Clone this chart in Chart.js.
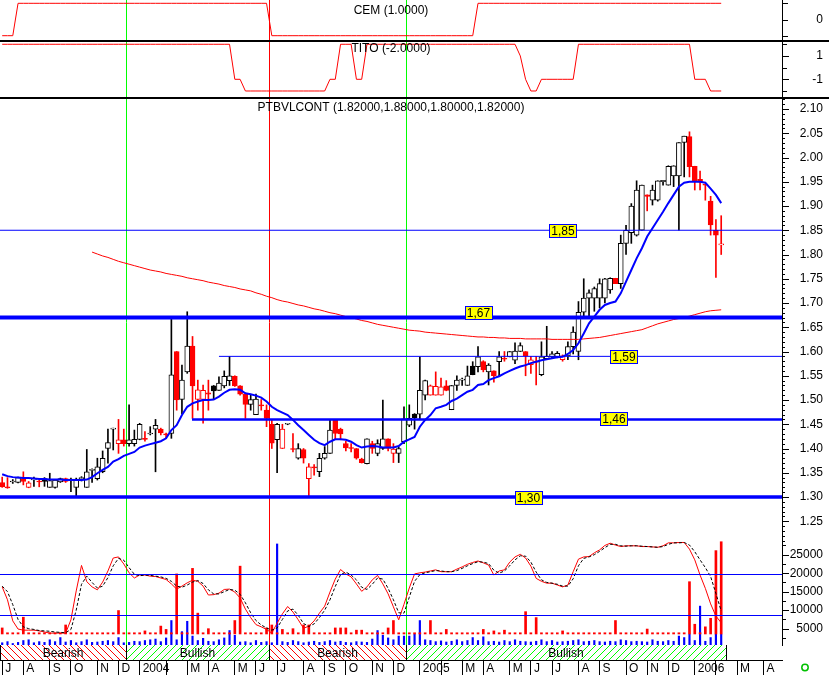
<!DOCTYPE html>
<html>
<head>
<meta charset="utf-8">
<script src="https://cdn.jsdelivr.net/npm/chart.js@4.4.1/dist/chart.umd.min.js"></script>
<style>
  html, body { margin: 0; padding: 0; background: #fff; }
  canvas { display: block; }
</style>
</head>
<body>
<canvas id="chart" width="829" height="675"></canvas>
<script>
// weekly bars, index 0 = first week of July 2003
var opens = [
  1.330,1.320,1.331,1.330,1.338,1.320,1.335,1.332,1.338,1.320,
  1.320,1.331,1.338,1.335,1.320,1.338,1.320,1.355,1.338,1.352,
  1.400,1.440,1.410,1.418,1.410,1.410,1.419,1.420,1.430,1.440,
  1.440,1.430,1.431,1.600,1.501,1.558,1.611,1.501,1.501,1.515,
  1.529,1.520,1.529,1.540,1.549,1.529,1.512,1.491,1.470,1.490,
  1.479,1.450,1.418,1.400,1.450,1.400,1.380,1.398,1.338,1.362,
  1.352,1.380,1.390,1.459,1.440,1.410,1.401,1.400,1.378,1.369,
  1.410,1.390,1.400,1.420,1.390,1.390,1.414,1.448,1.471,1.471,
  1.510,1.510,1.510,1.510,1.529,1.480,1.530,1.541,1.530,1.570,
  1.569,1.579,1.558,1.560,1.579,1.585,1.589,1.582,1.600,1.600,
  1.573,1.580,1.552,1.585,1.589,1.589,1.583,1.591,1.610,1.600,
  1.681,1.710,1.710,1.710,1.710,1.727,1.751,1.740,1.823,1.845,
  1.840,1.850,1.923,1.912,1.912,1.950,1.943,1.962,1.962,2.031,
  2.043,1.982,1.955,1.945,1.910,1.850,1.820
];
var highs = [
  1.341,1.340,1.336,1.341,1.352,1.332,1.341,1.335,1.340,1.349,
  1.336,1.339,1.339,1.339,1.339,1.342,1.398,1.358,1.380,1.395,
  1.440,1.442,1.460,1.440,1.490,1.438,1.452,1.435,1.445,1.460,
  1.442,1.432,1.668,1.600,1.572,1.682,1.631,1.541,1.531,1.541,
  1.530,1.548,1.560,1.590,1.550,1.530,1.512,1.510,1.512,1.501,
  1.490,1.460,1.452,1.450,1.451,1.431,1.410,1.400,1.369,1.367,
  1.390,1.404,1.459,1.459,1.442,1.415,1.410,1.400,1.380,1.420,
  1.415,1.418,1.500,1.420,1.410,1.403,1.486,1.490,1.472,1.589,
  1.541,1.531,1.558,1.545,1.540,1.530,1.550,1.545,1.570,1.579,
  1.610,1.581,1.575,1.560,1.600,1.600,1.600,1.618,1.618,1.600,
  1.590,1.590,1.620,1.652,1.600,1.600,1.593,1.620,1.651,1.703,
  1.750,1.727,1.733,1.750,1.751,1.752,1.751,1.840,1.860,1.905,
  1.952,1.943,1.923,1.943,1.952,1.953,1.983,1.983,2.031,2.044,
  2.053,1.982,1.972,1.945,1.920,1.872,1.880
];
var lows = [
  1.320,1.318,1.328,1.329,1.325,1.319,1.322,1.321,1.322,1.320,
  1.318,1.330,1.330,1.311,1.302,1.333,1.320,1.330,1.335,1.350,
  1.370,1.397,1.390,1.405,1.405,1.405,1.418,1.415,1.428,1.352,
  1.428,1.421,1.421,1.479,1.472,1.555,1.462,1.479,1.452,1.479,
  1.501,1.520,1.525,1.530,1.528,1.510,1.462,1.479,1.470,1.479,
  1.445,1.400,1.350,1.400,1.449,1.393,1.378,1.370,1.300,1.345,
  1.342,1.378,1.390,1.420,1.418,1.395,1.393,1.378,1.370,1.368,
  1.390,1.385,1.398,1.395,1.371,1.371,1.410,1.445,1.440,1.460,
  1.500,1.510,1.510,1.510,1.519,1.480,1.520,1.530,1.530,1.552,
  1.558,1.558,1.531,1.537,1.549,1.580,1.589,1.575,1.600,1.550,
  1.555,1.531,1.550,1.585,1.587,1.587,1.580,1.583,1.595,1.583,
  1.672,1.672,1.683,1.690,1.700,1.720,1.740,1.730,1.800,1.823,
  1.838,1.850,1.890,1.902,1.910,1.943,1.943,1.940,1.850,1.960,
  1.960,1.933,1.933,1.912,1.840,1.753,1.800
];
var closes = [
  1.321,1.319,1.333,1.340,1.332,1.329,1.338,1.331,1.332,1.334,
  1.335,1.338,1.332,1.336,1.337,1.340,1.352,1.357,1.362,1.380,
  1.412,1.442,1.418,1.410,1.418,1.419,1.450,1.419,1.432,1.448,
  1.432,1.428,1.552,1.500,1.541,1.611,1.529,1.521,1.520,1.512,
  1.519,1.535,1.549,1.550,1.529,1.512,1.491,1.501,1.502,1.488,
  1.462,1.411,1.450,1.440,1.450,1.398,1.400,1.380,1.362,1.360,
  1.380,1.390,1.438,1.431,1.430,1.401,1.400,1.380,1.371,1.420,
  1.400,1.410,1.420,1.400,1.399,1.400,1.461,1.462,1.463,1.520,
  1.540,1.529,1.528,1.527,1.520,1.530,1.541,1.543,1.550,1.552,
  1.589,1.562,1.572,1.550,1.589,1.584,1.600,1.601,1.612,1.591,
  1.583,1.578,1.589,1.590,1.595,1.596,1.591,1.610,1.640,1.681,
  1.710,1.721,1.730,1.740,1.750,1.751,1.740,1.823,1.850,1.900,
  1.933,1.943,1.920,1.933,1.952,1.953,1.982,1.983,2.031,2.044,
  1.981,1.950,1.949,1.943,1.861,1.840,1.820
];
// short (blue) and long (red) averages
var shortAvg = [
  1.347,1.343,1.341,1.340,1.339,1.339,1.338,1.337,1.337,1.336,
  1.336,1.336,1.335,1.335,1.335,1.335,1.336,1.341,1.349,1.356,
  1.362,1.373,1.378,1.385,1.389,1.393,1.402,1.406,1.409,1.412,
  1.415,1.421,1.438,1.448,1.469,1.486,1.493,1.497,1.500,1.500,
  1.501,1.507,1.515,1.521,1.522,1.521,1.514,1.512,1.509,1.505,
  1.497,1.486,1.479,1.474,1.469,1.459,1.448,1.438,1.428,1.418,
  1.411,1.407,1.414,1.419,1.419,1.418,1.414,1.407,1.402,1.404,
  1.405,1.404,1.402,1.402,1.402,1.405,1.414,1.419,1.424,1.445,
  1.459,1.469,1.483,1.486,1.490,1.498,1.503,1.510,1.517,1.521,
  1.531,1.533,1.541,1.545,1.549,1.555,1.560,1.565,1.569,1.572,
  1.576,1.579,1.582,1.584,1.586,1.588,1.589,1.595,1.603,1.617,
  1.637,1.658,1.672,1.686,1.696,1.700,1.703,1.720,1.744,1.768,
  1.792,1.813,1.837,1.854,1.871,1.888,1.906,1.923,1.940,1.948,
  1.950,1.950,1.950,1.948,1.936,1.923,1.906
];
var longAvg = [
  null,null,null,null,null,null,null,null,null,null,
  null,null,null,null,null,null,null,1.805,1.801,1.797,
  1.794,1.790,1.786,1.783,1.780,1.777,1.774,1.771,1.768,1.766,
  1.764,1.761,1.759,1.757,1.755,1.752,1.750,1.748,1.746,1.743,
  1.741,1.739,1.736,1.734,1.732,1.729,1.727,1.725,1.721,1.718,
  1.714,1.711,1.707,1.704,1.702,1.699,1.696,1.694,1.691,1.688,
  1.686,1.683,1.680,1.678,1.675,1.672,1.670,1.667,1.664,1.662,
  1.659,1.656,1.654,1.652,1.650,1.648,1.646,1.644,1.643,1.642,
  1.640,1.639,1.638,1.637,1.636,1.635,1.634,1.633,1.632,1.631,
  1.630,1.630,1.629,1.629,1.628,1.628,1.627,1.627,1.627,1.626,
  1.626,1.626,1.626,1.626,1.625,1.625,1.625,1.625,1.625,1.625,
  1.626,1.627,1.628,1.629,1.631,1.633,1.635,1.637,1.639,1.641,
  1.643,1.645,1.649,1.653,1.657,1.660,1.663,1.666,1.668,1.670,
  1.673,1.676,1.679,1.682,1.684,1.685,1.686
];
var cem = [
  -1,-1,-1,1,1,1,1,1,1,1, 1,1,1,1,1,1,1,1,1,1, 1,1,1,1,1,1,1,1,1,1,
  1,1,1,1,1,1,1,1,1,1, 1,1,1,1,1,1,1,1,1,1, 1,-1,-1,-1,-1,-1,-1,-1,-1,-1,
  -1,-1,-1,-1,-1,-1,-1,-1,-1,-1, -1,-1,-1,-1,-1,-1,-1,-1,-1,-1, -1,-1,-1,-1,-1,-1,-1,-1,-1,-1,
  1,1,1,1,1,1,1,1,1,1, 1,1,1,1,1,1,1,1,1,1, 1,1,1,1,1,1,1,1,1,1,
  1,1,1,1,1,1,1,1,1,1, 1,1,1,1,1,1,1
];
var tito = [
  2,2,2,2,2,2,2,2,2,2, 2,2,2,2,2,2,2,2,2,2, 2,2,2,2,2,2,2,2,2,2,
  2,2,2,2,2,2,2,2,2,2, 2,2,2,2,-1,-1,-2,-2,-2,-2, -2,-2,-2,-2,-2,-2,-2,-2,-2,-2,
  -2,-2,-1,-1,2,2,2,-1,-1,2, 2,2,2,2,2,2,2,2,2,2, 2,2,2,2,2,2,2,2,2,2,
  2,2,2,2,2,2,2,2,1,-1, -2,-2,-1,-1,-1,-1,-1,-1,-1,2, 2,2,2,2,2,2,2,2,2,2,
  2,2,2,2,2,2,2,2,2,2, 2,-1,-1,-1,-2,-2,-2
];
// lower panel, in thousands
var volRed = [
  5.2,3.9,3.9,3.9,8.1,3.9,3.9,3.9,3.9,3.9,
  3.9,3.9,6.0,3.9,3.9,3.9,3.9,3.9,3.9,3.9,
  3.9,3.9,9.9,3.9,3.9,3.9,3.9,4.4,3.9,3.9,
  5.7,4.8,3.9,19.8,3.9,3.9,21.3,9.2,3.9,5.0,
  3.9,3.9,3.9,3.9,7.2,21.9,3.9,3.9,3.9,3.9,
  5.2,6.0,3.9,4.8,3.9,5.0,3.9,6.0,6.0,3.9,
  3.9,3.9,3.9,5.2,5.2,5.2,3.9,4.6,4.6,3.9,
  3.9,3.9,3.9,5.2,7.2,3.9,3.9,3.9,3.9,3.9,
  3.9,7.2,3.9,3.9,4.8,3.9,3.9,3.9,3.9,3.9,
  3.9,4.8,3.9,4.4,3.9,4.6,3.9,3.9,3.9,9.6,
  3.9,8.0,3.9,3.9,3.9,3.9,4.4,3.9,3.9,3.9,
  3.9,3.9,3.9,3.9,3.9,3.9,7.2,3.9,3.9,3.9,
  3.9,3.9,4.9,3.9,3.9,3.9,3.9,3.9,3.9,3.9,
  17.7,6.2,3.9,5.5,7.8,26.1,28.5
];
var volBlue = [
  1.2,1.5,1.0,1.3,1.8,2.0,1.2,1.5,1.3,2.0,
  1.5,2.6,1.4,1.8,1.2,1.5,2.0,1.3,1.4,1.6,
  1.8,1.5,2.6,1.2,1.3,1.6,1.5,1.8,2.0,2.2,
  1.5,2.5,7.2,2.0,4.2,7.0,3.0,1.8,2.4,1.6,
  1.5,2.0,2.5,4.5,3.2,1.4,1.5,1.2,1.8,1.3,
  1.5,1.2,27.9,1.5,1.3,1.8,1.5,1.2,1.4,1.6,
  1.3,1.5,1.8,1.4,1.6,1.3,1.2,1.5,1.4,1.3,
  2.2,4.5,3.2,2.5,2.0,3.0,3.0,3.0,3.5,7.2,
  2.0,1.8,1.5,1.7,1.4,1.6,2.0,1.5,1.8,2.6,
  1.8,2.8,1.5,1.6,1.4,1.8,1.5,2.0,1.6,1.5,
  1.4,1.6,2.0,1.5,1.8,1.4,1.5,1.6,1.8,2.0,
  1.5,1.6,1.8,1.5,1.4,1.6,1.5,2.0,1.8,1.5,
  1.6,1.5,1.4,2.0,1.6,1.5,1.8,1.6,3.0,2.6,
  3.5,1.8,11.1,1.6,2.6,3.5,3.5
];
var osc = [
  16.3,12.8,7.1,4.9,4.6,4.6,4.6,4.4,4.1,3.8,
  3.8,3.8,3.8,7.4,15.2,22.1,17.7,16.3,15.5,17.6,
  20.6,24.1,24.4,22.5,20.1,18.7,19.5,19.5,19.2,19.1,
  18.7,18.3,17.1,15.7,16.5,17.4,18.1,17.8,16.5,14.1,
  14.2,14.6,15.6,15.7,14.9,13.3,10.3,8.0,6.1,5.5,
  4.8,3.8,6.5,9.0,11.0,9.5,7.4,5.1,5.7,7.1,
  9.2,11.1,14.9,18.4,21.0,19.8,19.0,17.1,15.1,16.3,
  18.2,19.4,17.1,14.4,10.9,7.4,11.6,16.0,19.8,20.1,
  20.3,20.6,20.9,20.4,20.4,20.4,21.1,21.7,22.4,22.9,
  23.3,22.8,22.2,19.5,20.6,20.9,23.0,24.4,25.1,24.1,
  21.9,18.6,17.8,17.3,17.3,16.8,16.3,16.8,20.4,23.8,
  24.4,24.5,25.5,26.3,27.5,28.1,27.6,27.2,27.4,27.4,
  27.4,27.2,27.2,27.1,27.0,27.4,28.2,28.2,28.3,28.3,
  26.5,23.6,19.5,15.9,11.7,8.4,6.6
];
var oscSignal = [
  16.5,15.0,11.5,7.5,5.5,5.0,4.8,4.5,4.4,4.3,
  4.1,4.0,3.9,4.8,10.0,17.0,19.2,17.5,16.0,16.5,
  18.8,22.0,24.0,23.5,21.5,19.7,19.3,19.5,19.4,19.2,
  19.0,18.6,17.8,16.5,16.2,16.8,17.6,18.0,17.2,15.5,
  14.4,14.4,15.0,15.6,15.4,14.3,12.0,9.3,7.2,6.0,
  5.2,4.6,5.2,7.5,9.8,10.3,8.6,6.4,5.6,6.3,
  8.0,10.0,12.8,16.4,19.6,20.3,19.5,18.2,16.2,15.6,
  17.0,18.7,18.4,15.9,12.8,9.3,9.2,13.5,17.8,19.6,
  20.1,20.4,20.7,20.6,20.4,20.4,20.7,21.3,22.0,22.6,
  23.1,23.0,22.6,20.8,20.0,20.6,22.0,23.6,24.7,24.6,
  23.0,20.3,18.2,17.5,17.3,17.0,16.5,16.5,18.5,22.0,
  24.0,24.4,25.0,25.9,26.9,27.8,27.8,27.4,27.3,27.4,
  27.4,27.3,27.2,27.1,27.0,27.2,27.8,28.2,28.2,28.3,
  27.6,25.8,23.6,21.5,19.1,14.5,9.8
];
var monthTicks = [0,4,9,13,18,22,26,31,35,39,44,48,52,57,61,65,70,74,79,83,87,91,96,100,104,109,113,118,122,126,131,135,139,144];
var monthLabels = ['J','A','S','O','N','D','2004','','M','A','M','J','J','A','S','O','N','D','2005','','M','A','M','J','J','A','S','O','N','D','2006','','M','A'];
var levelValues = [1.85, 1.67, 1.59, 1.46, 1.30];
var levelStart = [null, null, 41, 35.9, null];
var oscGuides = [19700, 8620];
var signalAt = [23.42, 50.46, 76.38];
var phaseNames = ['Bearish', 'Bullish', 'Bearish', 'Bullish'];
var lastBar = 136.9;

var FONT = "'Liberation Sans', Arial, sans-serif";
var RED = '#ff0000', GREEN = '#00ff00', BLUE = '#0000ff', BLACK = '#000000';
Chart.defaults.font.family = FONT;
Chart.defaults.font.size = 12;
Chart.defaults.color = BLACK;

var last = closes.length - 1;
var titles = [
  'CEM (' + cem[last].toFixed(4) + ')',
  'TITO (' + tito[last].toFixed(4) + ')',
  'PTBVLCONT (' + [opens[last], highs[last], lows[last], closes[last]].map(function (v) { return v.toFixed(5); }).join(',') + ')'
];

// metastock colouring: red when the close falls, filled when close < open
var candleColor = closes.map(function (c, i) {
  var ref = i === 0 ? opens[0] : closes[i - 1];
  return c < ref ? RED : BLACK;
});
var candleFilled = closes.map(function (c, i) { return c < opens[i]; });

function pts(arr, scale) {
  var out = [];
  arr.forEach(function (v, i) { if (v !== null) out.push({ x: i, y: v * (scale || 1) }); });
  return out;
}

var levelStyle = [
  { w: 1, lx: 562.5, dy: 0 },
  { w: 4, lx: 478, dy: -5 },
  { w: 1, lx: 623.5, dy: 0 },
  { w: 2.5, lx: 613.5, dy: -1 },
  { w: 3.5, lx: 528, dy: 0 }
];

var decor = {
  id: 'decor',
  beforeDatasetsDraw: function (chart) {
    var ctx = chart.ctx, x = chart.scales.x, band = chart.scales.yB;
    ctx.save();
    ctx.lineWidth = 1;
    signalAt.forEach(function (v, k) {
      var px = Math.round(x.getPixelForValue(v)) + 0.5;
      ctx.strokeStyle = k % 2 === 0 ? GREEN : RED;
      ctx.beginPath(); ctx.moveTo(px, 0); ctx.lineTo(px, band.top); ctx.stroke();
    });
    ctx.restore();
  },
  afterDatasetsDraw: function (chart) {
    var ctx = chart.ctx, area = chart.chartArea, s = chart.scales;
    var x = s.x, yC = s.yC, yT = s.yT, yP = s.yP, yV = s.yV, yB = s.yB;
    ctx.save();

    // support / resistance levels
    levelValues.forEach(function (v, k) {
      var st = levelStyle[k];
      var py = yP.getPixelForValue(v);
      var x0 = levelStart[k] === null ? area.left : x.getPixelForValue(levelStart[k]);
      ctx.strokeStyle = BLUE; ctx.lineWidth = st.w;
      ctx.beginPath(); ctx.moveTo(x0, py); ctx.lineTo(area.right, py); ctx.stroke();
    });

    // oscillator guides
    ctx.lineWidth = 1; ctx.strokeStyle = BLUE;
    oscGuides.forEach(function (v) {
      var py = Math.round(yV.getPixelForValue(v)) + 0.5;
      ctx.beginPath(); ctx.moveTo(area.left, py); ctx.lineTo(area.right, py); ctx.stroke();
    });

    // bearish / bullish band
    var edges = [area.left].concat(signalAt.map(function (v) { return x.getPixelForValue(v); }));
    edges.push(x.getPixelForValue(lastBar));
    var bt = yB.top, bb = yB.bottom, bh = bb - bt;
    ctx.font = '12px ' + FONT; ctx.textAlign = 'center'; ctx.textBaseline = 'middle';
    phaseNames.forEach(function (name, k) {
      var x0 = edges[k], x1 = edges[k + 1], bear = name === 'Bearish';
      ctx.save();
      ctx.beginPath(); ctx.rect(x0, bt, x1 - x0, bh); ctx.clip();
      ctx.strokeStyle = bear ? RED : GREEN; ctx.lineWidth = 1;
      ctx.beginPath();
      for (var hx = Math.floor((x0 - bh) / 7) * 7; hx < x1 + bh; hx += 7) {
        if (bear) { ctx.moveTo(hx, bt); ctx.lineTo(hx + bh, bb); }
        else { ctx.moveTo(hx, bb); ctx.lineTo(hx + bh, bt); }
      }
      ctx.stroke();
      ctx.restore();
      ctx.fillStyle = BLACK;
      ctx.fillText(name, (x0 + x1) / 2, (bt + bb) / 2 + 1);
    });
    ctx.strokeStyle = BLACK; ctx.lineWidth = 1;
    edges.forEach(function (ex) {
      var px = Math.round(ex) + 0.5;
      ctx.beginPath(); ctx.moveTo(px, bt); ctx.lineTo(px, bb); ctx.stroke();
    });

    // panel separators
    ctx.lineWidth = 2;
    [yC.bottom, yT.bottom].forEach(function (py) {
      ctx.beginPath(); ctx.moveTo(0, py); ctx.lineTo(chart.width, py); ctx.stroke();
    });

    // panel titles
    var cx = (area.left + area.right) / 2;
    ctx.fillStyle = BLACK;
    ctx.fillText(titles[0], cx, yC.top + 11);
    ctx.fillText(titles[1], cx, yT.top + 8);
    ctx.fillText(titles[2], cx, yP.top + 10);

    // level labels
    levelValues.forEach(function (v, k) {
      var st = levelStyle[k];
      var py = yP.getPixelForValue(v) + st.dy;
      var bx = Math.round(st.lx - 13.5) + 0.5, by = Math.round(py - 6.5) + 0.5;
      ctx.fillStyle = '#ffff00'; ctx.fillRect(bx, by, 27, 13);
      ctx.strokeStyle = BLUE; ctx.lineWidth = 1; ctx.strokeRect(bx, by, 27, 13);
      ctx.fillStyle = BLACK;
      ctx.fillText(v.toFixed(2).replace('.', ','), st.lx + 0.5, by + 7);
    });

    // right axis tick marks (major + minor)
    ctx.strokeStyle = BLACK; ctx.lineWidth = 1;
    ctx.beginPath();
    function mark(scale, v, len) {
      var py = Math.round(scale.getPixelForValue(v)) + 0.5;
      ctx.moveTo(scale.left, py); ctx.lineTo(scale.left + len, py);
    }
    for (var k = 121; k <= 212; k++) mark(yP, k / 100, k % 5 === 0 ? 7 : 3);
    for (k = 1; k <= 11; k++) mark(yV, k * 2500, k % 2 === 0 ? 7 : 4);
    [1, 0, -1].forEach(function (v) { mark(yC, v, 6); });
    [2, 1, 0, -1, -2].forEach(function (v) { mark(yT, v, v === 1 || v === -1 ? 7 : 5); });
    ctx.stroke();

    // little status icon
    ctx.strokeStyle = '#00c000'; ctx.lineWidth = 1.5;
    ctx.beginPath(); ctx.arc(805, 667.5, 3.2, 0, Math.PI * 2); ctx.stroke();
    ctx.restore();
  }
};

// right-aligned tick labels ending 41px right of the axis line
function fitY(scale) { scale.width = 47; scale.paddingTop = 0; scale.paddingBottom = 0; }
function yAxis(weight, min, max, values, label) {
  return {
    type: 'linear', position: 'right', stack: 'panels', stackWeight: weight,
    min: min, max: max, offset: false,
    grid: { display: false, drawTicks: false },
    border: { display: true, color: BLACK, width: 1 },
    ticks: { autoSkip: false, mirror: true, padding: 41, color: BLACK, font: { size: 12 }, callback: label },
    afterBuildTicks: function (s) { s.ticks = values.map(function (v) { return { value: v }; }); },
    afterFit: fitY
  };
}

var wickData = highs.map(function (h, i) { return { x: i, y: [lows[i], h] }; });
var bodyData = opens.map(function (o, i) { return { x: i, y: [o, closes[i]] }; });

new Chart(document.getElementById('chart'), {
  type: 'bar',
  data: {
    datasets: [
      { type: 'line', data: pts(shortAvg), yAxisID: 'yP', borderColor: BLUE, borderWidth: 2, pointRadius: 0, order: 0 },
      { type: 'line', data: pts(longAvg), yAxisID: 'yP', borderColor: RED, borderWidth: 1, pointRadius: 0, order: 0 },
      { type: 'line', data: pts(cem), yAxisID: 'yC', borderColor: RED, borderWidth: 1, pointRadius: 0, order: 0 },
      { type: 'line', data: pts(tito), yAxisID: 'yT', borderColor: RED, borderWidth: 1, pointRadius: 0, order: 0 },
      { type: 'line', data: pts(oscSignal, 1000), yAxisID: 'yV', borderColor: BLACK, borderWidth: 1, borderDash: [3, 2], pointRadius: 0, order: 0 },
      { type: 'line', data: pts(osc, 1000), yAxisID: 'yV', borderColor: RED, borderWidth: 1, pointRadius: 0, order: 0 },
      {
        data: bodyData, yAxisID: 'yP', order: 1, grouped: false, barThickness: 5, minBarLength: 1,
        borderWidth: 1, borderSkipped: false,
        borderColor: function (c) { return candleColor[c.dataIndex]; },
        backgroundColor: function (c) { return candleFilled[c.dataIndex] ? candleColor[c.dataIndex] : '#ffffff'; }
      },
      {
        data: wickData, yAxisID: 'yP', order: 2, grouped: false, barThickness: 1, borderWidth: 0,
        backgroundColor: function (c) { return candleColor[c.dataIndex]; }
      },
      { data: pts(volRed, 1000), yAxisID: 'yV', order: 3, grouped: false, barThickness: 2, base: 3570, minBarLength: 1, borderWidth: 0, backgroundColor: RED },
      { data: pts(volBlue, 1000), yAxisID: 'yV', order: 4, grouped: false, barThickness: 1.5, base: 590, borderWidth: 0, backgroundColor: BLUE }
    ]
  },
  options: {
    responsive: false, animation: false, events: [],
    layout: { padding: 0, autoPadding: false },
    plugins: { legend: { display: false }, tooltip: { enabled: false } },
    scales: {
      x: {
        type: 'linear', position: 'bottom', min: -0.416, max: 147.5, offset: false,
        grid: { offset: false, drawOnChartArea: false, drawTicks: true, tickLength: 15, color: BLACK, lineWidth: 1 },
        border: { display: true, color: BLACK, width: 1 },
        ticks: {
          autoSkip: false, maxRotation: 0, minRotation: 0, align: 'start', labelOffset: 3, padding: -14,
          color: BLACK, font: { size: 12 },
          callback: function (v, idx) { return monthLabels[idx]; }
        },
        afterBuildTicks: function (s) { s.ticks = monthTicks.map(function (v) { return { value: v }; }); },
        afterFit: function (s) { s.height = 15; s.paddingLeft = 0; s.paddingRight = 0; }
      },
      yC: yAxis(41, -1.327, 1.204, [1, 0, -1], function (v) { return v === 0 ? '0' : ''; }),
      yT: yAxis(57, -2.6, 2.28, [2, 1, 0, -1, -2], function (v) { return v === 1 || v === -1 ? String(v) : ''; }),
      yP: yAxis(443, 1.2093, 2.1227, [1.25,1.30,1.35,1.40,1.45,1.50,1.55,1.60,1.65,1.70,1.75,1.80,1.85,1.90,1.95,2.00,2.05,2.10], function (v) { return v.toFixed(2); }),
      yV: yAxis(104, 590, 28700, [5000, 10000, 15000, 20000, 25000], function (v) { return String(v); }),
      yB: { type: 'linear', position: 'right', stack: 'panels', stackWeight: 15, display: false, min: 0, max: 1, afterFit: fitY }
    }
  },
  plugins: [decor]
});
</script>
</body>
</html>
